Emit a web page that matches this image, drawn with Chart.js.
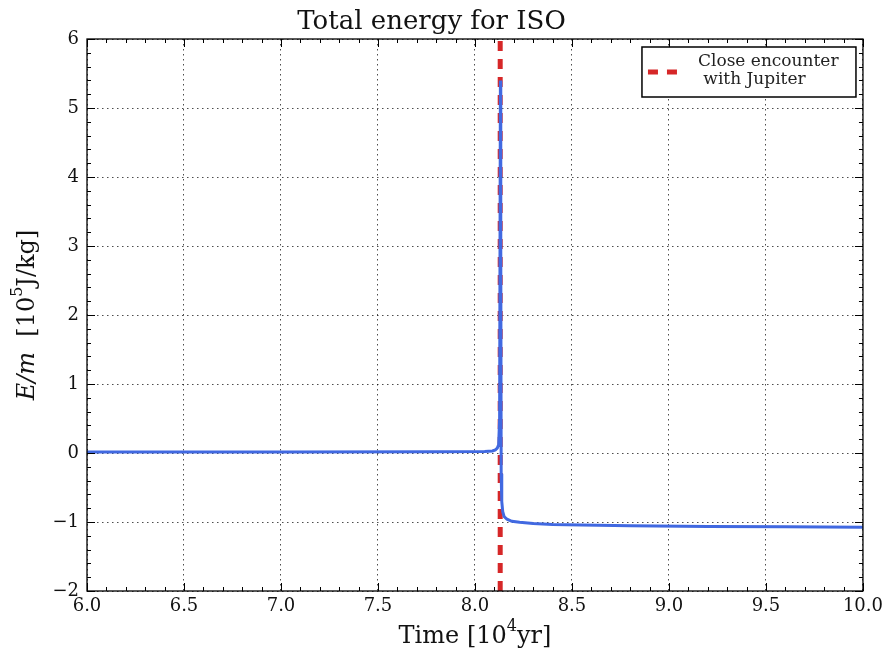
<!DOCTYPE html>
<html>
<head>
<meta charset="utf-8">
<title>Total energy for ISO</title>
<script src="https://cdn.jsdelivr.net/npm/chart.js"></script>
<style>
  html, body { margin: 0; padding: 0; background: #fff; }
  .wrap { width: 888px; height: 654px; position: relative; }
</style>
</head>
<body>
<div class="wrap"><canvas id="energyChart"></canvas></div>
<script>
// time in 10^4 yr, energy per mass in 10^5 J/kg
const timeKyr = [6.0, 7.0, 7.8, 8.05, 8.09, 8.105, 8.115, 8.122, 8.127, 8.131, 8.133, 8.135,
                 8.138, 8.143, 8.15, 8.165, 8.19, 8.23, 8.3, 8.4, 8.55, 8.8, 9.2, 9.6, 10.0];
const energy = [0.015, 0.015, 0.017, 0.022, 0.03, 0.045, 0.07, 0.12, 0.5, 5.4, 3.0, -0.3,
                -0.7, -0.85, -0.92, -0.96, -0.99, -1.005, -1.02, -1.035, -1.045, -1.055, -1.065, -1.07, -1.075];
const encounterTime = 8.13;
const encounterSpan = [-2, 6];
const xTicks = [6.0, 6.5, 7.0, 7.5, 8.0, 8.5, 9.0, 9.5, 10.0];
const yTicks = [-2, -1, 0, 1, 2, 3, 4, 5, 6];

const SERIF = '"DejaVu Serif", serif';

// frame, inward ticks, legend box and axis titles
const decor = {
  id: 'decor',
  afterDatasetsDraw(chart) {
    const ctx = chart.ctx;
    const a = chart.chartArea;
    const xs = chart.scales.x, ys = chart.scales.y;
    ctx.save();
    ctx.strokeStyle = '#000';
    ctx.lineWidth = 1;
    ctx.beginPath();
    // x ticks, major every 0.5, minor every 0.1
    for (let i = 0; i <= 40; i++) {
      const px = Math.round(xs.getPixelForValue(6 + i * 0.1)) + 0.5;
      const len = i % 5 === 0 ? 8 : 4;
      ctx.moveTo(px, a.bottom); ctx.lineTo(px, a.bottom - len);
      ctx.moveTo(px, a.top); ctx.lineTo(px, a.top + len);
    }
    // y ticks, major every 1, minor every 0.2
    for (let i = 0; i <= 40; i++) {
      const py = Math.round(ys.getPixelForValue(-2 + i * 0.2)) + 0.5;
      const len = i % 5 === 0 ? 8 : 4;
      ctx.moveTo(a.left, py); ctx.lineTo(a.left + len, py);
      ctx.moveTo(a.right, py); ctx.lineTo(a.right - len, py);
    }
    ctx.stroke();
    ctx.lineWidth = 1.3;
    ctx.strokeRect(a.left, a.top, a.right - a.left, a.bottom - a.top);

    // legend
    const ds = chart.data.datasets[1];
    const lx = a.right - 221, ly = a.top + 8, lw = 214, lh = 50;
    ctx.fillStyle = '#fff';
    ctx.fillRect(lx, ly, lw, lh);
    ctx.lineWidth = 1.5;
    ctx.strokeRect(lx, ly, lw, lh);
    ctx.strokeStyle = ds.borderColor;
    ctx.lineWidth = 5;
    ctx.setLineDash([10, 9]);
    ctx.beginPath();
    ctx.moveTo(lx + 6, ly + 25); ctx.lineTo(lx + 36, ly + 25);
    ctx.stroke();
    ctx.setLineDash([]);
    ctx.fillStyle = '#222';
    ctx.font = '17px ' + SERIF;
    ctx.textBaseline = 'middle';
    ctx.textAlign = 'left';
    ds.label.forEach((line, i) => ctx.fillText(line, lx + 56, ly + 15 + i * 18));

    // x title
    ctx.fillStyle = '#111';
    drawRich(ctx, [['Time [10', '24px ' + SERIF, 0], ['4', '16px ' + SERIF, -10], ['yr]', '24px ' + SERIF, 0]],
             (a.left + a.right) / 2, 637);
    // y title, rotated
    ctx.save();
    ctx.translate(28, (a.top + a.bottom) / 2);
    ctx.rotate(-Math.PI / 2);
    drawRich(ctx, [['E/m', 'italic 24px ' + SERIF, 0], ['  [10', '24px ' + SERIF, 0], ['5', '16px ' + SERIF, -10],
                   ['J/kg]', '24px ' + SERIF, 0]], 0, 0);
    ctx.restore();
    ctx.restore();
  }
};

function drawRich(ctx, parts, cx, cy) {
  let total = 0;
  parts.forEach(p => { ctx.font = p[1]; total += ctx.measureText(p[0]).width; });
  let x = cx - total / 2;
  ctx.textAlign = 'left';
  ctx.textBaseline = 'middle';
  parts.forEach(p => {
    ctx.font = p[1];
    ctx.fillText(p[0], x, cy + p[2]);
    x += ctx.measureText(p[0]).width;
  });
}

const fmtMinus = v => String(v).replace('-', '\u2212');

new Chart(document.getElementById('energyChart'), {
  type: 'line',
  data: {
    datasets: [{
      label: 'Energy',
      data: timeKyr.map((t, i) => ({ x: t, y: energy[i] })),
      borderColor: '#4169e1',
      borderWidth: 3,
      pointRadius: 0,
      tension: 0,
      order: 0
    }, {
      label: ['Close encounter', ' with Jupiter'],
      data: encounterSpan.map(v => ({ x: encounterTime, y: v })),
      borderColor: '#d62728',
      borderWidth: 5,
      borderDash: [10, 8],
      pointRadius: 0,
      order: 1
    }]
  },
  options: {
    responsive: true,
    maintainAspectRatio: false,
    animation: false,
    layout: { padding: { left: 0, right: 25, top: 0, bottom: 0 } },
    plugins: {
      legend: { display: false },
      tooltip: { enabled: false },
      title: {
        display: true,
        text: 'Total energy for ISO',
        color: '#111',
        font: { family: SERIF, size: 26, weight: 'normal', lineHeight: 1.2 },
        padding: { top: 6.5, bottom: 1.3 }
      }
    },
    scales: {
      x: {
        type: 'linear',
        min: 6, max: 10,
        afterBuildTicks: s => { s.ticks = xTicks.map(v => ({ value: v })); },
        afterFit: s => { s.height = 63; },
        grid: { color: '#000', lineWidth: 0.7, drawTicks: false },
        border: { display: false, dash: [1.5, 3.5] },
        ticks: {
          padding: 5,
          color: '#111',
          font: { family: SERIF, size: 18 },
          callback: v => v.toFixed(1)
        }
      },
      y: {
        type: 'linear',
        min: -2, max: 6,
        afterBuildTicks: s => { s.ticks = yTicks.map(v => ({ value: v })); },
        afterFit: s => { s.width = 87; },
        grid: { color: '#000', lineWidth: 0.7, drawTicks: false },
        border: { display: false, dash: [1.5, 3.5] },
        ticks: {
          padding: 8,
          color: '#111',
          font: { family: SERIF, size: 18 },
          callback: v => fmtMinus(v)
        }
      }
    }
  },
  plugins: [decor]
});
</script>
</body>
</html>
